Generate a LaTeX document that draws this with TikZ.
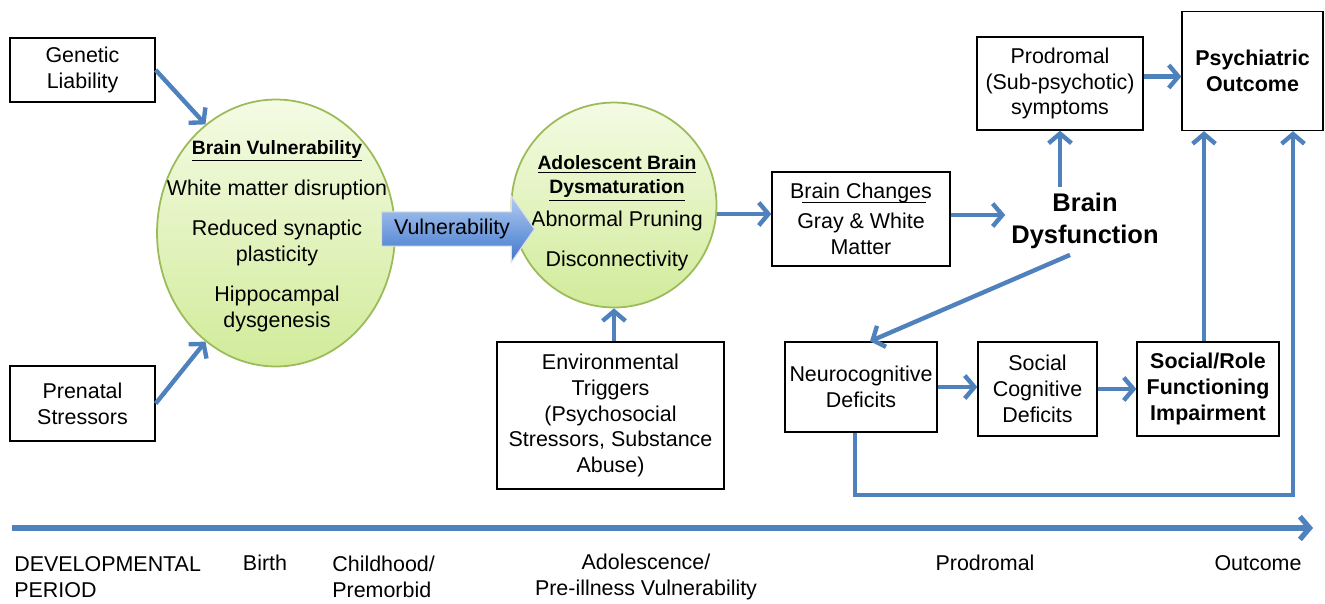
\documentclass[tikz,border=0pt]{standalone}
\usepackage{fontspec}
\setmainfont{Liberation Sans}
\usepackage{tikz}
\usetikzlibrary{arrows.meta,positioning,calc,shapes.geometric,shapes.arrows}

\definecolor{flowblue}{HTML}{4F81BD}
\definecolor{bubbleline}{HTML}{9BBB59}
\definecolor{bubbletop}{HTML}{F4FBE4}
\definecolor{bubblebot}{HTML}{D1EB9A}
\definecolor{vulntop}{HTML}{B2CCF2}
\definecolor{vulnbot}{HTML}{3F77CC}
\newcommand{\diagfont}{\fontsize{12.2}{14.7}\selectfont}
\newcommand{\bubblehead}[1]{{\bfseries\fontsize{11}{13.5}\selectfont\underline{#1}}}

\begin{document}
\begin{tikzpicture}[x=0.02cm,y=-0.02cm,>={Straight Barb[length=5.5pt,width=13pt]},font=\diagfont]
\tikzstyle{box}=[draw, line width=0.8pt, align=center, inner sep=2pt]
\tikzstyle{bubble}=[ellipse, draw=bubbleline, line width=1pt, top color=bubbletop, bottom color=bubblebot, inner sep=0pt]
\tikzstyle{flow}=[->, draw=flowblue, line width=2.5pt]
\useasboundingbox (0,0) rectangle (1325,603);

% inputs
\node[box, minimum width=2.9cm, minimum height=1.28cm] (gen) at (82.5,70) {Genetic\\Liability};
\node[box, minimum width=2.9cm, minimum height=1.5cm] (pren) at (82.5,403.5) {Prenatal\\Stressors};

% the two bubbles
\node[bubble, minimum width=4.76cm, minimum height=5.34cm] (bv) at (276,233) {};
\node[align=center] (bvtext) at (277,236) {\bubblehead{Brain Vulnerability}\\[9pt]
  White matter disruption\\[8pt]Reduced synaptic\\plasticity\\[8pt]Hippocampal\\dysgenesis};
\node[bubble, minimum width=4.1cm, minimum height=4.1cm] (abd) at (614,205) {};
\node[align=center] (abdtext) at (617,213) {\bubblehead{Adolescent Brain}\\[-1pt]\bubblehead{Dysmaturation}\\[4pt]
  Abnormal Pruning\\[8pt]Disconnectivity};
\node[single arrow, draw=white!75!gray, line width=0.6pt, top color=vulntop, bottom color=vulnbot,
  minimum height=3.06cm, single arrow head extend=0.32cm, single arrow tip angle=110,
  inner xsep=2pt, inner ysep=3.8pt] (vul) at (452,229) {Vulnerability};

\node[box, minimum width=4.54cm, minimum height=2.94cm] (env) at (610.5,415.5) {Environmental\\Triggers\\(Psychosocial\\Stressors, Substance\\Abuse)};

% brain changes and dysfunction
\node[box, minimum width=3.56cm, minimum height=1.88cm] (bc) at (861,219) {Brain Changes\\[2.5pt]Gray \& White\\Matter};
\draw[line width=0.9pt] ([shift={(-59,31)}]bc.north) -- ([shift={(65,31)}]bc.north);
\node[align=center, font=\bfseries\fontsize{14.5}{18}\selectfont] (bd) at (1085,221) {Brain\\Dysfunction};

% right side
\node[box, minimum width=3.32cm, minimum height=1.86cm] (prod) at (1060,83.5) {Prodromal\\(Sub-psychotic)\\symptoms};
\node[box, font=\bfseries\diagfont, minimum width=2.82cm, minimum height=2.38cm] (psy) at (1252.5,71) {Psychiatric\\Outcome};
\node[box, minimum width=3.04cm, minimum height=1.8cm] (neuro) at (861,387) {Neurocognitive\\Deficits};
\node[box, minimum width=2.38cm, minimum height=1.88cm] (soc) at (1037.5,389) {Social\\Cognitive\\Deficits};
\node[box, font=\bfseries\diagfont, minimum width=2.84cm, minimum height=1.88cm] (role) at (1208,389) {Social/Role\\Functioning\\Impairment};

% connectors
\draw[flow] (gen.east) -- (bv.123);
\draw[flow] (pren.east) -- (bv.237);
\draw[flow] (abd.south |- env.north) -- (abd.south);
\draw[flow] ([yshift=0.1cm]bc.west -| abd.east) -- ([yshift=0.1cm]bc.west);
\draw[flow] ([yshift=0.08cm]bc.east) -- ([yshift=0.08cm]bc.east -| bd.west);
\draw[flow] (prod.south |- bd.north) -- (prod.south);
\draw[flow] ([yshift=0.14cm]prod.east) -- ([yshift=0.14cm]prod.east -| psy.west);
\draw[flow] ([xshift=-0.3cm]bd.south) -- ([xshift=0.18cm]neuro.north);
\draw[flow] (neuro.east) -- (neuro.east -| soc.west);
\draw[flow] (soc.east) -- (role.west);
\draw[flow] ([xshift=-0.08cm]role.north) -- ([xshift=-0.08cm]role.north |- psy.south);
\coordinate (loopcorner) at (1293,495);
\draw[flow] ([xshift=-0.12cm]neuro.south) |- (loopcorner) -- (loopcorner |- psy.south);

% timeline
\coordinate (tstart) at (12,528);
\coordinate (tend) at (1313,528);
\draw[flow, line width=3pt] (tstart) -- (tend);
\node[align=left, anchor=west, inner sep=0pt] (devperiod) at (14,577) {DEVELOPMENTAL\\PERIOD};
\node[inner sep=0pt] (birth) at (265,563) {Birth};
\node[align=left, anchor=west, inner sep=0pt] (child) at (332,577) {Childhood/\\Premorbid};
\node[align=center, inner sep=0pt] (adol) at (646,577) {Adolescence/\\Pre-illness Vulnerability};
\node[inner sep=0pt] (prodper) at (985,563) {Prodromal};
\node[inner sep=0pt] (outper) at (1258,563) {Outcome};
\end{tikzpicture}
\end{document}
